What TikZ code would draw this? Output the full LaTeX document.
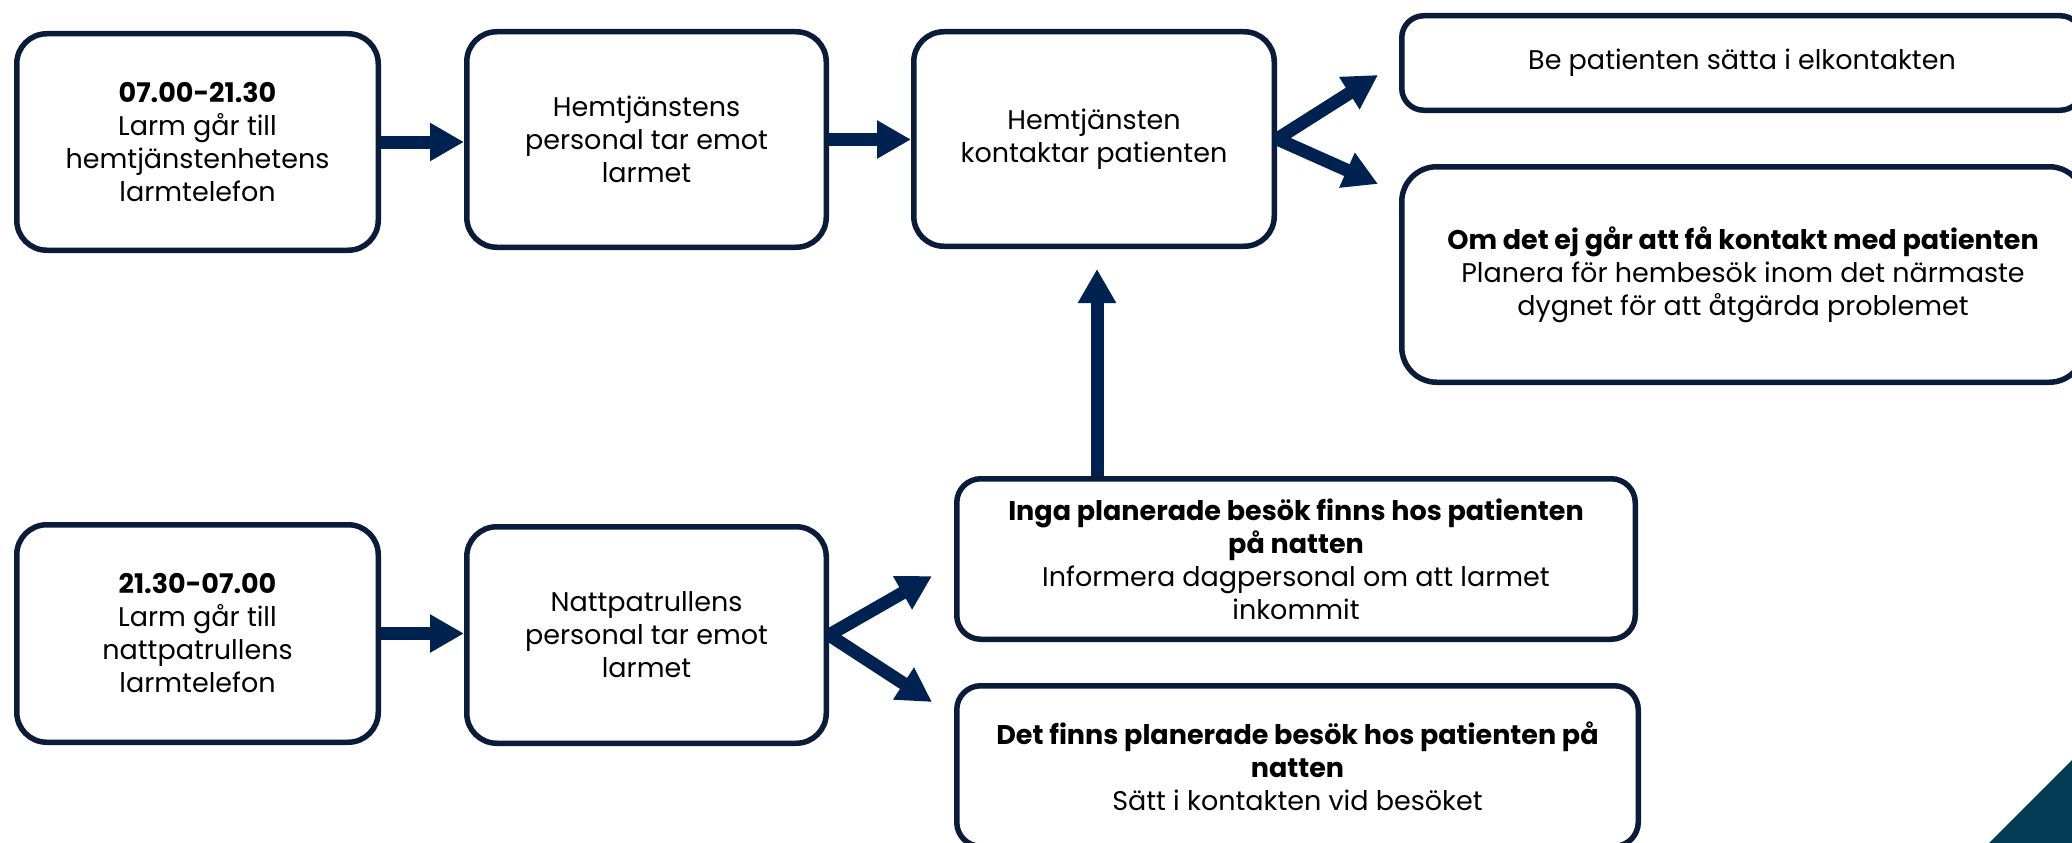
\documentclass[tikz,border=0pt]{standalone}
\usepackage{fontspec}
\setmainfont{Poppins}
\usetikzlibrary{arrows.meta,calc}
\definecolor{boxline}{HTML}{0A1C3A}
\definecolor{arrowc}{HTML}{002251}
\definecolor{tri}{HTML}{033A56}
\begin{document}
\begin{tikzpicture}[x=1pt,y=-1pt,
  box/.style={draw=boxline,line width=5.5pt,fill=white,rounded corners=30pt,align=center,
    inner sep=0pt,font=\fontsize{27}{33}\selectfont},
  conn/.style={draw=arrowc,line width=13pt,-{Triangle[length=34pt,width=36pt]}}]
\path[use as bounding box] (0,0) rectangle (2072,843);
\clip (0,0) rectangle (2072,843);
\fill[tri] (1989,843) -- (2072,760) -- (2072,843) -- cycle;
% top row
\node[box,minimum width=361.5pt,minimum height=216.5pt] (A) at (197.5,142)
  {\textbf{07.00-21.30}\\Larm går till\\hemtjänstenhetens\\larmtelefon};
\node[box,minimum width=359.5pt,minimum height=215.5pt] (B) at (646.5,139.5)
  {Hemtjänstens\\personal tar emot\\larmet};
\node[box,minimum width=360.5pt,minimum height=214.5pt] (C) at (1094,139)
  {Hemtjänsten\\kontaktar patienten};
\node[box,rounded corners=22pt,minimum width=680.5pt,minimum height=94.5pt] (D) at (1742,63)
  {Be patienten sätta i elkontakten};
\node[box,rounded corners=35pt,minimum width=682.5pt,minimum height=215.5pt] (E) at (1743,274.5)
  {\textbf{Om det ej går att få kontakt med patienten}\\Planera för hembesök inom det närmaste\\dygnet för att åtgärda problemet};
% bottom row
\node[box,minimum width=361.5pt,minimum height=217.5pt] (F) at (197.5,633.5)
  {\textbf{21.30-07.00}\\Larm går till\\nattpatrullens\\larmtelefon};
\node[box,minimum width=359.5pt,minimum height=216.5pt] (G) at (646.5,635)
  {Nattpatrullens\\personal tar emot\\larmet};
\node[box,rounded corners=24pt,minimum width=678.5pt,minimum height=160.5pt] (H) at (1296,559)
  {\textbf{Inga planerade besök finns hos patienten}\\\textbf{på natten}\\Informera dagpersonal om att larmet\\inkommit};
\node[box,rounded corners=24pt,minimum width=681.5pt,minimum height=160.5pt] (I) at (1297.5,766)
  {\textbf{Det finns planerade besök hos patienten på}\\\textbf{natten}\\Sätt i kontakten vid besöket};
% connectors
\coordinate (Dtip) at ($(D.west)+(-21,12)$);
\coordinate (Etip) at ($(E.north west)+(-21,20)$);
\coordinate (Htip) at ($(H.west)+(-22,17)$);
\coordinate (Itip) at ($(I.north west)+(-22,19)$);
\coordinate (Hup) at ($(H.north west)+(143,0)$);
\coordinate (Ctip) at ($(C.south)+(0,20)$);
\draw[conn] (A.east) -- (A.east -| B.west);
\draw[conn] (B.east) -- (B.east -| C.west);
\draw[conn] (C.east) -- (Dtip);
\draw[conn] (C.east) -- (Etip);
\draw[conn] (F.east) -- (F.east -| G.west);
\draw[conn] (G.east) -- (Htip);
\draw[conn] (G.east) -- (Itip);
\draw[conn] (Hup) -- (Hup |- Ctip);
\end{tikzpicture}
\end{document}
